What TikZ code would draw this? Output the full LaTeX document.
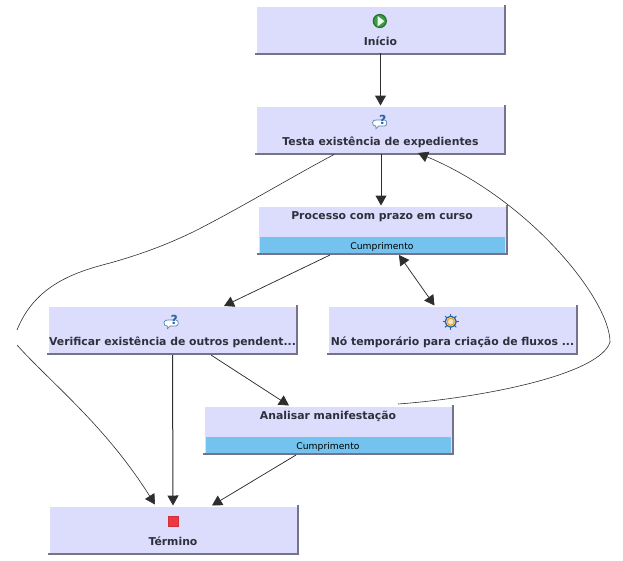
\documentclass[tikz,border=0pt]{standalone}
\usepackage{fontspec}
\setmainfont{DejaVu Sans}
\usetikzlibrary{arrows.meta,calc}
\definecolor{boxfill}{HTML}{DCDCFC}
\definecolor{boxshade}{HTML}{75738C}
\definecolor{laneblue}{HTML}{74C3EE}
\definecolor{ink}{HTML}{2F2F3C}
\definecolor{edgeink}{HTML}{2E2E2E}
\definecolor{iconblue}{HTML}{2A65A5}
\tikzset{
  wfbox/.style={fill=boxfill,inner sep=0pt,outer sep=0pt,minimum width=247pt,minimum height=46pt,anchor=north west},
  wftitle/.style={font=\bfseries\fontsize{10.85}{12}\selectfont,text=ink,inner sep=0pt,anchor=base},
  lanetext/.style={font=\fontsize{9.2}{11}\selectfont,text=black,inner sep=0pt,anchor=base},
  headtip/.style={-{Triangle[length=10pt,width=11pt,fill=edgeink]}},
  flow/.style={draw=edgeink,line width=0.75pt,headtip},
  straightflow/.style={draw=edgeink,line width=1pt,headtip},
  twoway/.style={draw=edgeink,line width=0.75pt,{Triangle[length=10pt,width=11pt,fill=edgeink]}-{Triangle[length=10pt,width=11pt,fill=edgeink]}},
  thinflow/.style={draw=edgeink,line width=0.6pt},
}
\newcommand{\boxrim}[1]{%
  \draw[boxshade,line width=2pt] ($(#1.north east)+(1,-2)$) -- ($(#1.south east)+(1,1)$) -- ($(#1.south west)+(-2,1)$);
}
\newcommand{\askicon}[1]{%
  \begin{scope}[shift={(#1)}]
    \draw[fill=white,draw=iconblue!80,line width=0.7pt] (-8,1.5) .. controls (-8,-1) and (-6,-1) .. (-3,-1) -- (4,-1) .. controls (7,-1) and (7,5) .. (4,5) -- (-2,5) -- (-4.5,7.5) -- (-4.8,5) .. controls (-7,5) and (-8,4) .. (-8,1.5);
    \node[font=\bfseries\fontsize{12.5}{13}\selectfont,text=iconblue,inner sep=0pt] at (2.3,-0.8) {?};
  \end{scope}
}
\begin{document}
\begin{tikzpicture}[x=1pt,y=-1pt]
\useasboundingbox (0,0) rectangle (623,560);

% boxes
\node[wfbox] (ini) at (257,7) {};
\node[wfbox] (tes) at (257,107) {};
\node[wfbox] (pro) at (259,207) {};
\node[wfbox] (ver) at (49,307) {};
\node[wfbox] (tmp) at (329,307) {};
\node[wfbox] (ana) at (205,407) {};
\node[wfbox] (ter) at (50,507) {};
\foreach \b in {ini,tes,pro,ver,tmp,ana,ter}{\boxrim{\b}}

% swimlane bands
\node[fill=laneblue,inner sep=0pt,minimum width=245.5pt,minimum height=16pt,anchor=south] (prolane) at (pro.south) {};
\node[fill=laneblue,inner sep=0pt,minimum width=245.5pt,minimum height=16pt,anchor=south] (analane) at (ana.south) {};

% labels
\node[wftitle] (iniT) at (380.5,45) {Início};
\node[wftitle] (tesT) at (380.5,145) {Testa existência de expedientes};
\node[wftitle] (proT) at (382,219) {Processo com prazo em curso};
\node[wftitle] (verT) at (172.5,345) {Verificar existência de outros pendent...};
\node[wftitle] (tmpT) at (452.5,345) {Nó temporário para criação de fluxos ...};
\node[wftitle] (anaT) at (328,419) {Analisar manifestação};
\node[wftitle] (terT) at (173,545) {Término};
\node[lanetext] (proL) at (382,249) {Cumprimento};
\node[lanetext] (anaL) at (328,449) {Cumprimento};

% icons
\node[circle,fill={rgb,255:red,60;green,155;blue,70},draw={rgb,255:red,35;green,115;blue,50},line width=1.2pt,minimum size=13pt,inner sep=0pt] (iconstart) at (379.8,21) {};
\fill[white!92!green] (377.6,16) -- (384.4,21.2) -- (377.6,26.4) -- cycle;
\askicon{380.5,121}
\askicon{172,321}
\foreach \a in {0,45,...,315}{\draw[iconblue,line width=1pt] (450.7,321.7) ++(\a:5) -- ++(\a:3);}
\node[circle,draw=iconblue,line width=1.3pt,fill={rgb,255:red,250;green,225;blue,195},minimum size=11pt,inner sep=0pt] (icongear) at (450.7,321.7) {};
\node[circle,draw={rgb,255:red,225;green,170;blue,40},line width=1.2pt,minimum size=7pt,inner sep=0pt] at (450.7,321.7) {};
\node[rectangle,fill={rgb,255:red,238;green,55;blue,65},draw={rgb,255:red,205;green,50;blue,60},line width=1pt,minimum size=9.5pt,inner sep=0pt] (iconstop) at (173.3,521.4) {};

% connector end points
\coordinate (a1) at (380.5,53);
\coordinate (a2) at (380.5,105.5);
\coordinate (b1) at (381,154);
\coordinate (b2) at (381,205.5);
\coordinate (c1) at (330,255);
\coordinate (c2) at (224,306);
\coordinate (d1) at (399,255);
\coordinate (d2) at (434.5,305.5);
\coordinate (e1) at (172.5,355);
\coordinate (e2) at (173,505.5);
\coordinate (f1) at (211,355);
\coordinate (f2) at (289,405.5);
\coordinate (g1) at (296,455);
\coordinate (g2) at (212,505.5);
\coordinate (h1) at (334,154.5);
\coordinate (h2) at (17,330);
\coordinate (h3) at (17,345);
\coordinate (h4) at (155,504.5);
\coordinate (i1) at (398,404);
\coordinate (i2) at (610,342);
\coordinate (i3) at (418,153);

% connectors
\draw[straightflow] (a1) -- (a2);
\draw[straightflow] (b1) -- (b2);
\draw[flow] (c1) -- (c2);
\draw[twoway] (d1) -- (d2);
\draw[straightflow] (e1) -- (e2);
\draw[flow] (f1) -- (f2);
\draw[flow] (g1) -- (g2);
\draw[thinflow] (h1) .. controls (290,178) and (240,208) .. (197,230) .. controls (165,246) and (135,256) .. (110,263) .. controls (75,272) and (35,285) .. (h2);
\draw[thinflow,headtip] (h3) .. controls (50,382) and (105,425) .. (h4);
\draw[thinflow] (i1) .. controls (480,398) and (600,375) .. (i2);
\draw[thinflow,headtip] (i2) .. controls (610,300) and (530,200) .. (i3);
\end{tikzpicture}
\end{document}
